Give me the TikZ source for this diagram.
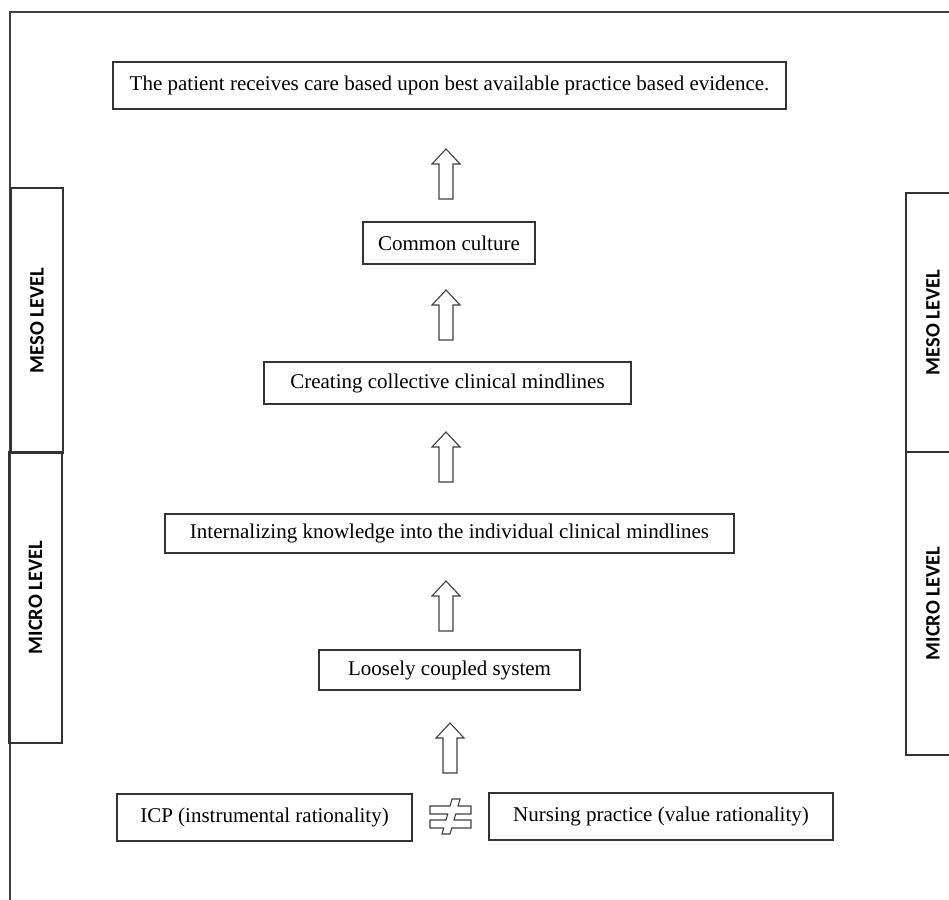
\documentclass[tikz,border=0pt]{standalone}
\usepackage{fontspec}
\setmainfont{Liberation Serif}
\newfontfamily\lblfont{Carlito}
\begin{document}
\begin{tikzpicture}[x=1pt,y=-1pt,
  frameline/.style={draw=black!75,line width=1.6pt},
  box/.style={draw=black!80,line width=1.3pt,rectangle,inner sep=0pt,font=\fontsize{21}{24}\selectfont},
  levelbox/.style={draw=black!80,line width=1.2pt,rectangle,inner sep=0pt},
  levellabel/.style={rotate=90,font=\lblfont\bfseries\fontsize{20.5}{22}\selectfont,inner sep=0pt},
  arrowline/.style={draw=black!75,line width=1.1pt,fill=white},
  uparr/.pic={\path[arrowline] (-7,25) -- (-7,-10) -- (-14,-10) -- (0,-25) -- (14,-10) -- (7,-10) -- (7,25) -- cycle;},
  noteq/.pic={\path[arrowline] (-20.5,-10.5) -- (-0.5,-10.5) -- (1.5,-17.5) -- (9.5,-17.5) -- (7.5,-10.5) -- (20.5,-10.5) -- (20.5,-2.5) -- (5.2,-2.5) -- (3.5,3.5) -- (20.5,3.5) -- (20.5,11.5) -- (1.2,11.5) -- (-0.5,17.5) -- (-8.5,17.5) -- (-6.8,11.5) -- (-20.5,11.5) -- (-20.5,3.5) -- (-4.5,3.5) -- (-2.8,-2.5) -- (-20.5,-2.5) -- cycle;}]
\useasboundingbox (0,0) rectangle (949,899);
\clip (0,0) rectangle (949,899);
% outer frame
\coordinate (ftl) at (10,12);
\coordinate (ftr) at (952,12);
\coordinate (fbl) at (10,902);
\draw[frameline] (ftr) -- (ftl) -- (fbl);
% level boxes
\node[levelbox,minimum width=52pt,minimum height=265pt] (lmeso) at (37,320.5) {};
\node[levellabel] (lmesot) at (lmeso.center) {MESO LEVEL};
\node[levelbox,minimum width=53pt,minimum height=291pt] (lmicro) at (35.5,597.5) {};
\node[levellabel] (lmicrot) at (lmicro.center) {MICRO LEVEL};
\node[levelbox,minimum width=54pt,minimum height=259pt] (rmeso) at (933,322.5) {};
\node[levellabel] (rmesot) at (rmeso.center) {MESO LEVEL};
\node[levelbox,minimum width=54pt,minimum height=303pt] (rmicro) at (933,603.5) {};
\node[levellabel] (rmicrot) at (rmicro.center) {MICRO LEVEL};
% main boxes
\node[box,minimum width=673pt,minimum height=47pt] (b1) at (449.5,85.5) {The patient receives care based upon best available practice based evidence.};
\node[box,minimum width=172pt,minimum height=42pt] (b2) at (449,243) {Common culture};
\node[box,minimum width=367pt,minimum height=42pt] (b3) at (447.5,383) {Creating collective clinical mindlines};
\node[box,minimum width=569pt,minimum height=39pt] (b4) at (449.5,533.5) {Internalizing knowledge into the individual clinical mindlines};
\node[box,minimum width=261pt,minimum height=40pt] (b5) at (449.5,670) {Loosely coupled system};
\node[box,minimum width=295pt,minimum height=47pt] (b6) at (264.5,817.5) {ICP (instrumental rationality)};
\node[box,minimum width=344pt,minimum height=47pt] (b7) at (661,816.5) {Nursing practice (value rationality)};
% block arrows
\pic (a1) at (446,174) {uparr};
\pic (a2) at (446,315) {uparr};
\pic (a3) at (446,457) {uparr};
\pic (a4) at (446,606) {uparr};
\pic (a5) at (450,748) {uparr};
\pic (ne) at (450.5,816.5) {noteq};
\end{tikzpicture}
\end{document}
